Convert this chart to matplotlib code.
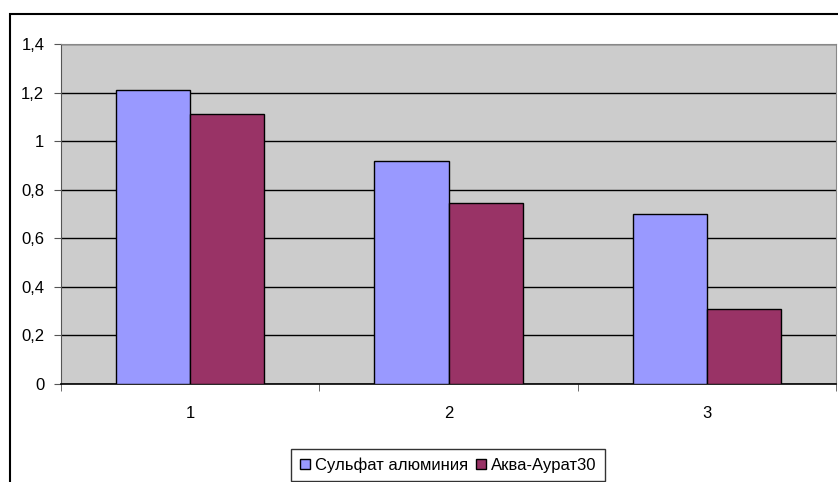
import numpy as np
import matplotlib.pyplot as plt
from matplotlib.patches import Rectangle

plt.rcParams['font.family'] = ['Liberation Sans', 'DejaVu Sans']

categories = ['1', '2', '3']
sulfate = [1.21, 0.92, 0.70]
aqua = [1.11, 0.745, 0.307]
series_names = ['Сульфат алюминия', 'Аква-Аурат30']

W, H = 838, 482
fig = plt.figure(figsize=(W / 100, H / 100), dpi=100)

# outer chart border (clipped at right/bottom like the reference)
fig.patches.append(Rectangle((9.5 / W, -0.1), 1.2, 1.1 - 13.5 / H,
                             transform=fig.transFigure, fill=False,
                             edgecolor='black', linewidth=1.5))

ax = fig.add_axes([61 / W, 1 - 384 / H, (836 - 61) / W, (384 - 44) / H])
ax.set_facecolor('#CCCCCC')

x = np.arange(len(categories))
w = 0.287
ax.bar(x - w / 2, sulfate, w, color='#9999FF', edgecolor='black', linewidth=1,
       label=series_names[0], zorder=3)
ax.bar(x + w / 2, aqua, w, color='#993366', edgecolor='black', linewidth=1,
       label=series_names[1], zorder=3)

ax.set_xlim(-0.5, 2.5)
ax.set_ylim(0, 1.4)
yt = np.arange(0, 1.41, 0.2)
ax.set_yticks(yt)
ax.set_yticklabels(['0' if v == 0 else ('1' if abs(v - 1) < 1e-9 else f'{v:.1f}'.replace('.', ',')) for v in yt])
ax.yaxis.grid(True, color='black', linewidth=1, zorder=1)
ax.set_axisbelow(True)

ax.set_xticks(x)
ax.set_xticklabels(categories)
ax.set_xticks([-0.5, 0.5, 1.5, 2.5], minor=True)
ax.tick_params(axis='x', which='major', length=0, pad=16, labelsize=12)
ax.tick_params(axis='x', which='minor', length=5, direction='out', color='#555555')
ax.tick_params(axis='y', length=5, direction='out', pad=7, labelsize=12, color='#555555')

for s in ['top', 'right']:
    ax.spines[s].set_color('#888888')
ax.spines['left'].set_color('#555555')
ax.spines['bottom'].set_color('black')
ax.spines['bottom'].set_linewidth(1.2)

leg = fig.legend(loc='lower center', bbox_to_anchor=(448 / W, 1.0 / H), ncol=2,
                 fontsize=12, frameon=True, fancybox=False, edgecolor='black',
                 handlelength=0.6, handleheight=0.6, handletextpad=0.3,
                 columnspacing=0.5, borderpad=0.5, borderaxespad=0)
leg.get_frame().set_linewidth(1)

fig.savefig('out.png', dpi=100)
